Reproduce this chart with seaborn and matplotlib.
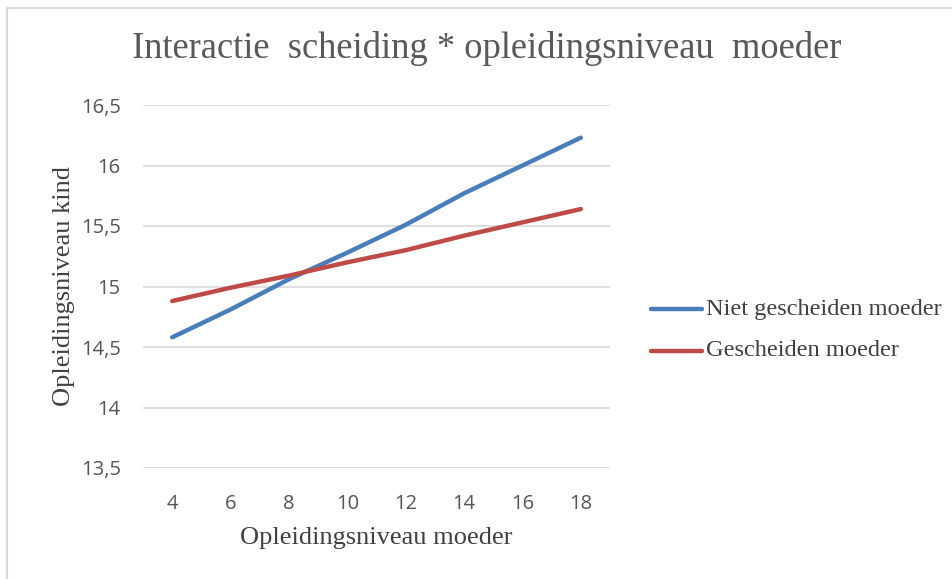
import matplotlib
matplotlib.use("Agg")
import matplotlib.pyplot as plt
import seaborn as sns
import pandas as pd
from matplotlib.patches import Rectangle

# ─── DATA ─────────────────────────────────────────────────────────────────────
niveau_moeder = [4, 6, 8, 10, 12, 14, 16, 18]
niet_gescheiden = [14.58, 14.81, 15.06, 15.28, 15.51, 15.77, 16.00, 16.23]
gescheiden = [14.88, 14.99, 15.09, 15.20, 15.30, 15.42, 15.53, 15.64]
series_names = ["Niet gescheiden moeder", "Gescheiden moeder"]
y_ticks = [13.5, 14, 14.5, 15, 15.5, 16, 16.5]

df = pd.DataFrame({
    "pos": list(range(len(niveau_moeder))) * 2,
    "waarde": niet_gescheiden + gescheiden,
    "serie": [series_names[0]] * len(niveau_moeder) + [series_names[1]] * len(niveau_moeder),
})

# ─── STYLE ────────────────────────────────────────────────────────────────────
sns.set_theme(style="white")
plt.rcParams["font.family"] = ["Liberation Serif", "DejaVu Serif"]

W, H = 952, 579
fig = plt.figure(figsize=(W / 100, H / 100), dpi=100)
ax = fig.add_axes([143 / W, 1 - 468 / H, (610 - 143) / W, (468 - 105) / H])

# light frame of the chart area (only left/top visible in the reference)
fig.patches.append(Rectangle((7 / W, -0.1), 1.2, 1 - 8 / H + 0.1, transform=fig.transFigure,
                             fill=False, edgecolor="#D9D9D9", linewidth=1.5))

sns.lineplot(data=df, x="pos", y="waarde", hue="serie",
             palette=["#4A7EBB", "#BE4B48"], linewidth=3.2,
             solid_capstyle="round", legend=False, ax=ax)

ax.set_xlim(-0.5, len(niveau_moeder) - 0.5)
ax.set_ylim(13.5, 16.5)
ax.set_xticks(range(len(niveau_moeder)))
ax.set_xticklabels([str(v) for v in niveau_moeder])
ax.set_yticks(y_ticks)
ax.set_yticklabels([f"{v:g}".replace(".", ",") for v in y_ticks])

for lab in ax.get_xticklabels() + ax.get_yticklabels():
    lab.set_fontfamily(["Open Sans", "DejaVu Sans"])
    lab.set_fontsize(14.5)
    lab.set_color("#555555")
ax.tick_params(axis="y", length=0, pad=16)
ax.tick_params(axis="x", length=0, pad=19)

ax.grid(axis="y", color="#D9D9D9", linewidth=1.2)
ax.set_axisbelow(True)
for s in ax.spines.values():
    s.set_visible(False)

ax.set_xlabel("Opleidingsniveau moeder", fontsize=19, color="#404040", labelpad=9)
ax.set_ylabel("Opleidingsniveau kind", fontsize=19, color="#404040", labelpad=4)

fig.text(487 / W, 1 - 48 / H, "Interactie  scheiding * opleidingsniveau  moeder",
         ha="center", va="center", fontsize=26.3, color="#595959")

# legend drawn at right, outside the plot area
for i, (name, col) in enumerate(zip(series_names, ["#4A7EBB", "#BE4B48"])):
    yy = 1 - (309 + 42 * i) / H
    fig.add_artist(plt.Line2D([651 / W, 702 / W], [yy, yy], transform=fig.transFigure,
                              color=col, linewidth=3.2, solid_capstyle="round"))
    fig.text(706 / W, yy, name, ha="left", va="center", fontsize=17.6, color="#404040")

fig.savefig("out.png", dpi=100, facecolor="white")
